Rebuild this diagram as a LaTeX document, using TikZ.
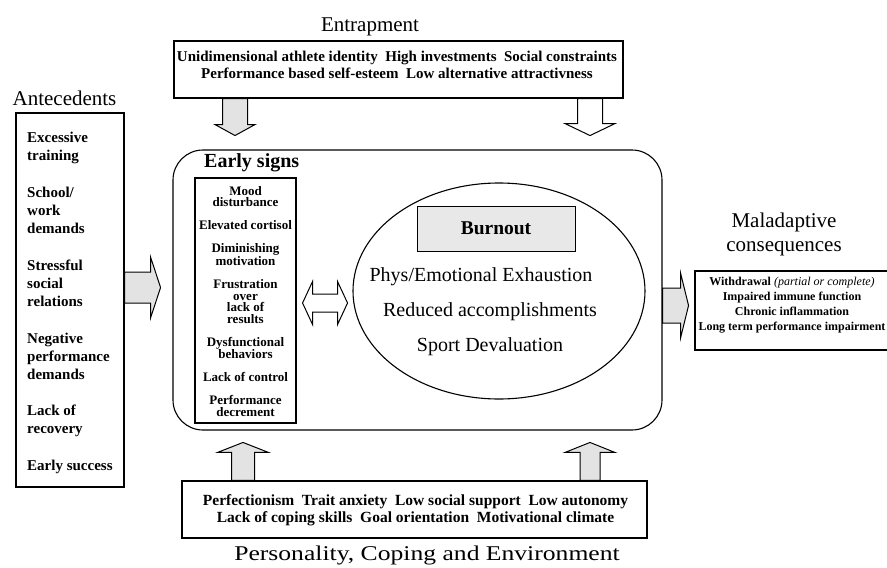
\documentclass[tikz,border=0pt]{standalone}
\usepackage{fontspec}
\setmainfont{Liberation Serif}
\usetikzlibrary{calc,shapes.geometric}
\newcommand\blockarr[6]{%
  \coordinate (bah) at ($(#3)!#6!(#2)$);
  \path[#1] ($(#2)!#4!90:(#3)$) -- ($(bah)!#4!90:(#3)$) -- ($(bah)!#5!90:(#3)$) -- (#3)
    -- ($(bah)!#5!-90:(#3)$) -- ($(bah)!#4!-90:(#3)$) -- ($(#2)!#4!-90:(#3)$) -- cycle;}
\newcommand\dblarr[6]{%
  \coordinate (dha) at ($(#2)!#6!(#3)$);
  \coordinate (dhb) at ($(#3)!#6!(#2)$);
  \path[#1] (#2) -- ($(dha)!#5!90:(#3)$) -- ($(dha)!#4!90:(#3)$) -- ($(dhb)!#4!90:(#3)$)
    -- ($(dhb)!#5!90:(#3)$) -- (#3) -- ($(dhb)!#5!-90:(#3)$) -- ($(dhb)!#4!-90:(#3)$)
    -- ($(dha)!#4!-90:(#3)$) -- ($(dha)!#5!-90:(#3)$) -- cycle;}
\tikzset{
  bigl/.style={font=\fontsize{21}{24}\selectfont, inner sep=0},
  frame/.style={draw, line width=1.1pt, inner sep=0, minimum width=#1},
  txt/.style={inner sep=0, align=center},
  garrow/.style={draw, line width=1pt, fill=gray!22, line join=miter},
  warrow/.style={draw, line width=1pt, fill=white, line join=miter},
}
\begin{document}
\begin{tikzpicture}[x=1pt,y=-1pt]
\useasboundingbox (0,0) rectangle (887,568);
% labels
\node[bigl] (lentr) at (370,27) {Entrapment};
\node[bigl] (lante) at (64.5,98) {Antecedents};
\node[bigl] (lmal1) at (784,222) {Maladaptive};
\node[bigl] (lmal2) at (784,249) {consequences};
\node[bigl] (lpers) at (427,555) {\scalebox{1.22}[1]{Personality, Coping and Environment}};
% top box
\node[frame=449pt, minimum height=57pt] (top) at (398.5,69.5) {};
\node[txt, font=\bfseries\fontsize{15}{16.5}\selectfont] (toptxt) at (397,65)
  {Unidimensional athlete identity\ \ High investments\ \ Social constraints\\
   Performance based self-esteem\ \ Low alternative attractivness};
% antecedents box
\node[frame=108pt, minimum height=374pt] (ante) at (70,300) {};
\node[inner sep=0, anchor=north west, align=left, font=\bfseries\fontsize{15}{18}\selectfont] (antetxt) at (27,132)
  {Excessive\\training\\[18.8pt]School/\\work\\demands\\[18.8pt]Stressful\\social\\relations\\[18.8pt]%
   Negative\\performance\\demands\\[18.8pt]Lack of\\recovery\\[18.8pt]Early success};
% main rounded box
\node[draw, line width=1.1pt, rounded corners=30pt, minimum width=489pt, minimum height=280pt, inner sep=0] (main) at (417.5,290) {};
\node[inner sep=0, anchor=west, font=\bfseries\fontsize{20}{24}\selectfont] (esl) at (204,163) {Early signs};
\node[frame=101pt, minimum height=245pt] (es) at (245.5,300.5) {};
\node[inner sep=0, anchor=north, align=center, font=\bfseries\fontsize{13}{11.5}\selectfont] (estxt) at (245.5,186)
  {Mood\\disturbance\\[11.5pt]Elevated cortisol\\[11.5pt]Diminishing\\motivation\\[11.5pt]%
   Frustration\\over\\lack of\\results\\[11.5pt]Dysfunctional\\behaviors\\[11.5pt]Lack of control\\[11.5pt]%
   Performance\\decrement};
% ellipse
\node[draw, line width=1.1pt, ellipse, minimum width=292pt, minimum height=216pt, inner sep=0] (ell) at (499,291) {};
\node[draw, line width=1pt, fill=gray!18, minimum width=158pt, minimum height=45pt, inner sep=0,
  font=\bfseries\fontsize{19.5}{22}\selectfont] (burn) at (496,228.5) {\raisebox{-3pt}{Burnout}};
\node[txt, font=\fontsize{20}{22}\selectfont] (b1) at (481,277) {Phys/Emotional Exhaustion};
\node[txt, font=\fontsize{20}{22}\selectfont] (b2) at (490,312) {Reduced accomplishments};
\node[txt, font=\fontsize{20}{22}\selectfont] (b3) at (490,347) {Sport Devaluation};
% right box
\node[frame=205pt, minimum height=79pt] (cons) at (797.5,310.5) {};
\node[txt, font=\bfseries\fontsize{12}{15}\selectfont] (constxt) at (792,305)
  {Withdrawal {\mdseries\itshape(partial or complete)}\\Impaired immune function\\Chronic inflammation\\Long term performance impairment};
% bottom box
\node[frame=465pt, minimum height=57pt] (bot) at (414.5,509.5) {};
\node[txt, font=\bfseries\fontsize{15.5}{16.5}\selectfont] (bottxt) at (415.5,510)
  {Perfectionism\ \ Trait anxiety\ \ Low social support\ \ Low autonomy\\
   Lack of coping skills\ \ Goal orientation\ \ Motivational climate};
% arrow end points
\coordinate (ta1s) at ([xshift=-163.5pt]top.south);
\coordinate (ta1e) at ([xshift=-163.5pt,yshift=-37pt]top.south);
\coordinate (ta2s) at ([xshift=191.5pt]top.south);
\coordinate (ta2e) at ([xshift=191.5pt,yshift=-37pt]top.south);
\coordinate (las) at ([yshift=12.5pt]ante.east);
\coordinate (lae) at ([xshift=36pt,yshift=12.5pt]ante.east);
\coordinate (das) at ([xshift=6pt,yshift=-2.5pt]es.east);
\coordinate (dae) at ([xshift=51pt,yshift=-2.5pt]es.east);
\coordinate (ras) at ([yshift=-15.5pt]main.east);
\coordinate (rae) at ([xshift=26pt,yshift=-15.5pt]main.east);
\coordinate (ba1s) at ([xshift=-171.5pt]bot.north);
\coordinate (ba1e) at ([xshift=-171.5pt,yshift=38pt]bot.north);
\coordinate (ba2s) at ([xshift=175.5pt]bot.north);
\coordinate (ba2e) at ([xshift=175.5pt,yshift=38pt]bot.north);
% arrows
\blockarr{garrow}{ta1s}{ta1e}{12.5pt}{20pt}{11pt}
\blockarr{warrow}{ta2s}{ta2e}{12.5pt}{25pt}{12pt}
\blockarr{garrow}{las}{lae}{15.5pt}{30.5pt}{10pt}
\dblarr{warrow}{das}{dae}{9pt}{21.5pt}{10pt}
\blockarr{garrow}{ras}{rae}{17.5pt}{32.5pt}{8pt}
\blockarr{garrow}{ba1s}{ba1e}{11.5pt}{25.5pt}{10pt}
\blockarr{garrow}{ba2s}{ba2e}{10pt}{25pt}{10pt}
\end{tikzpicture}
\end{document}
